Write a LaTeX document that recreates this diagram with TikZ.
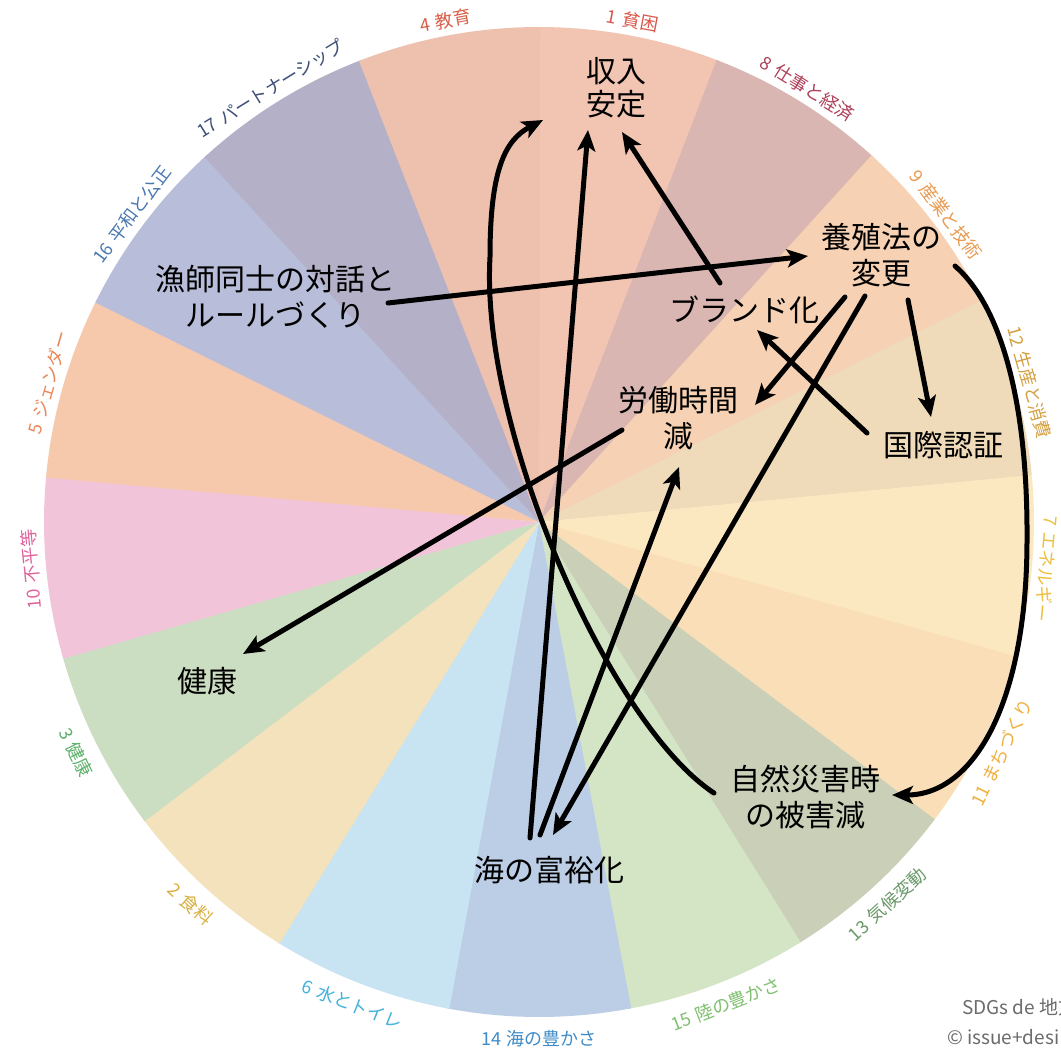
\documentclass[tikz,border=0pt]{standalone}
\usepackage{fontspec}
\newfontfamily\jp{Noto Sans CJK JP}
\usetikzlibrary{arrows.meta,calc}
\definecolor{c1}{HTML}{F2C4B2}
\definecolor{c8}{HTML}{D9B6B2}
\definecolor{c9}{HTML}{F6D1B3}
\definecolor{c12}{HTML}{EFDAB9}
\definecolor{c7}{HTML}{FCE8C0}
\definecolor{c11}{HTML}{FADEB8}
\definecolor{c13}{HTML}{CAD0B8}
\definecolor{c15}{HTML}{D4E5C5}
\definecolor{c14}{HTML}{BCCEE6}
\definecolor{c6}{HTML}{C8E3F2}
\definecolor{c2}{HTML}{F4E2BC}
\definecolor{c3}{HTML}{CCDEC1}
\definecolor{c10}{HTML}{F2C4DA}
\definecolor{c5}{HTML}{F6C8AC}
\definecolor{c16}{HTML}{B8BDDA}
\definecolor{c17}{HTML}{B3B0C8}
\definecolor{c4}{HTML}{EEC0AE}
\definecolor{l1}{HTML}{D9574A}
\definecolor{l8}{HTML}{B0405A}
\definecolor{l9}{HTML}{E89A50}
\definecolor{l12}{HTML}{D4A040}
\definecolor{l7}{HTML}{EEC040}
\definecolor{l11}{HTML}{F0B040}
\definecolor{l13}{HTML}{6A9A6A}
\definecolor{l15}{HTML}{80C070}
\definecolor{l14}{HTML}{3F8CC8}
\definecolor{l6}{HTML}{45B2DA}
\definecolor{l2}{HTML}{D8B040}
\definecolor{l3}{HTML}{5CB068}
\definecolor{l10}{HTML}{E0649C}
\definecolor{l5}{HTML}{E8875A}
\definecolor{l16}{HTML}{4A78B0}
\definecolor{l17}{HTML}{3E5078}
\definecolor{l4}{HTML}{D86048}
\begin{document}
\begin{tikzpicture}[x=1pt,y=-1pt,
  lbl/.style={font=\jp\fontsize{30}{36}\selectfont, align=center, inner sep=0pt, text=black},
  ring/.style={font=\jp\fontsize{18}{20}\selectfont, inner sep=0pt},
  credit/.style={font=\jp\fontsize{19}{22}\selectfont, inner sep=0pt, anchor=west, text=black!58},
  arr/.style={line width=5pt, line cap=round, -{Stealth[length=21pt,width=18pt,inset=5pt]}},
]
\useasboundingbox (0,0) rectangle (1061,1052);
\clip (0,0) rectangle (1061,1052);
\fill[white] (0,0) rectangle (1061,1052);
\def\cx{539}\def\cy{522}\def\R{495}
% wedges
\foreach \c [count=\k from 0] in {c1,c8,c9,c12,c7,c11,c13,c15,c14,c6,c2,c3,c10,c5,c16,c17,c4} {
  \pgfmathsetmacro\aa{90-21.17647*\k+0.15}
  \pgfmathsetmacro\ab{90-21.17647*(\k+1)-0.15}
  \fill[\c] (\cx,\cy) -- plot[domain=\aa:\ab,samples=30] ({\cx+\R*cos(\x)},{\cy-\R*sin(\x)}) -- cycle;
}
% ring labels
\foreach \n/\t/\col/\io [count=\k from 0] in {
  1/貧困/l1/0, 8/仕事と経済/l8/0, 9/産業と技術/l9/0, 12/生産と消費/l12/0,
  7/エネルギー/l7/0, 11/まちづくり/l11/1, 13/気候変動/l13/1, 15/陸の豊かさ/l15/1,
  14/海の豊かさ/l14/1, 6/水とトイレ/l6/1, 2/食料/l2/1, 3/健康/l3/1,
  10/不平等/l10/0, 5/ジェンダー/l5/0, 16/平和と公正/l16/0,
  17/パートナーシップ/l17/0, 4/教育/l4/0} {
  \pgfmathsetmacro\am{90-21.17647*(\k+0.5)}
  \pgfmathsetmacro\rr{\io==0 ? 510 : 517}
  \pgfmathsetmacro\rot{\io==0 ? \am-90 : \am+90}
  \node[ring, text=\col, rotate=\rot] (r\k) at ({\cx+\rr*cos(\am)},{\cy-\rr*sin(\am)}) {\n\hspace{6pt}\t};
}
% main nodes
\node[lbl, font=\jp\fontsize{30}{33}\selectfont] (inc) at (616,88) {収入\\安定};
\node[lbl] (yo) at (881,255) {養殖法の\\変更};
\node[lbl] (br) at (744,310) {ブランド化};
\node[lbl] (ro) at (678,418) {労働時間\\減};
\node[lbl] (ko) at (943,445) {国際認証};
\node[lbl] (gy) at (275,297) {漁師同士の対話と\\ルールづくり};
\node[lbl] (ke) at (207,681) {健康};
\node[lbl] (umi) at (549,870) {海の富裕化};
\node[lbl] (sh) at (805,797) {自然災害時\\の被害減};
% connectors
\draw[arr] ($(gy)+(113,6)$) -- ($(yo)+(-73,1)$);
\draw[arr] ($(br)+(-24,-27)$) -- ($(inc)+(6,44)$);
\draw[arr] ($(yo)+(-36,42)$) -- ($(ro)+(77,-13)$);
\draw[arr] ($(yo)+(27,45)$) -- ($(ko)+(-12,-28)$);
\draw[arr] ($(ko)+(-76,-12)$) -- ($(br)+(13,20)$);
\draw[arr] ($(yo)+(-16,41)$) -- ($(umi)+(4,-35)$);
\draw[arr] ($(umi)+(-9,-35)$) -- ($(ro)+(1,49)$);
\draw[arr] ($(umi)+(-19,-32)$) -- ($(inc)+(-28,42)$);
\draw[arr] ($(ro)+(-56,12)$) -- ($(ke)+(36,-27)$);
\draw[arr] ($(sh)+(-91,-4)$) .. controls (610,725) and (480,430) .. (490,257)
  .. controls (490,170) and (505,140) .. ($(inc)+(-73,32)$);
\draw[arr] ($(yo)+(74,11)$) .. controls (1000,305) and (1028,400) .. (1027,540)
  .. controls (1027,700) and (975,795) .. ($(sh)+(87,-2)$);
% credit (cut by the right edge, as in the reference)
\node[credit] (cr1) at (962,1007) {SDGs de 地方};
\node[credit] (cr2) at (947,1037) {© issue+desi};
\end{tikzpicture}
\end{document}
